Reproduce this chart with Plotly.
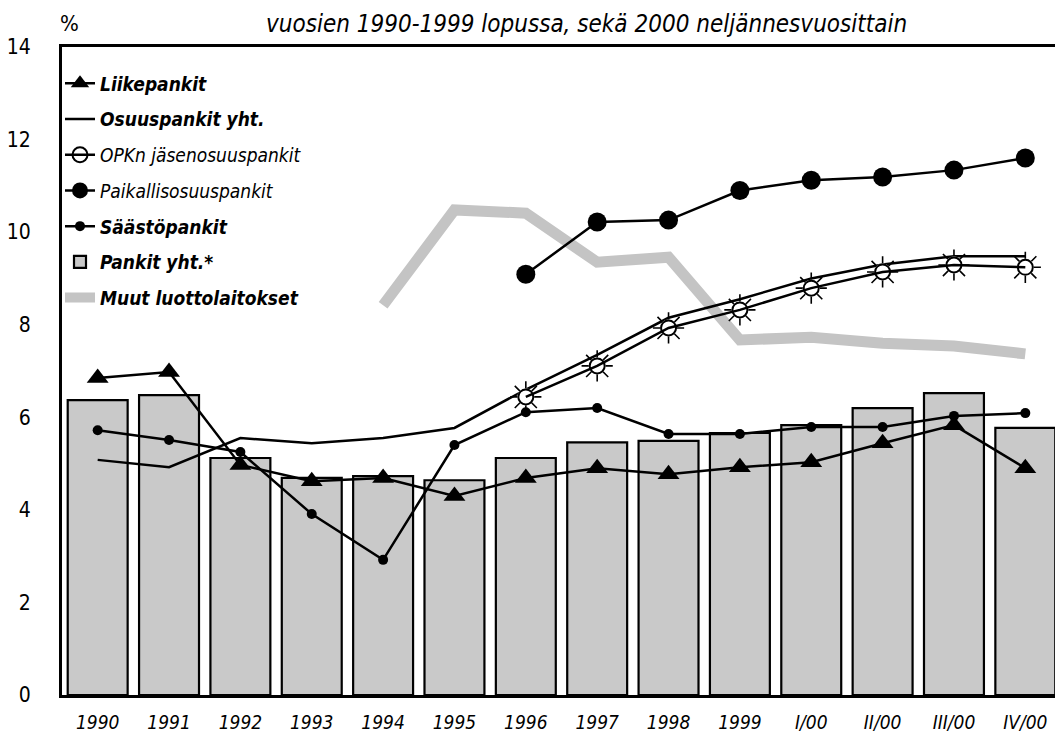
import plotly.graph_objects as go

categories = ["1990", "1991", "1992", "1993", "1994", "1995", "1996", "1997",
              "1998", "1999", "I/00", "II/00", "III/00", "IV/00"]

pankit_yht = [6.37, 6.48, 5.12, 4.69, 4.73, 4.64, 5.12, 5.46, 5.49, 5.66, 5.83, 6.20, 6.52, 5.77]
liikepankit = [6.85, 6.98, 4.97, 4.62, 4.69, 4.30, 4.69, 4.90, 4.77, 4.92, 5.03, 5.44, 5.83, 4.90]
osuuspankit = [5.08, 4.92, 5.55, 5.44, 5.55, 5.77, 6.60, 7.35, 8.15, 8.55, 9.00, 9.30, 9.48, 9.48]
opkn = [None, None, None, None, None, None, 6.44, 7.11, 7.93, 8.32, 8.79, 9.14, 9.29, 9.24]
paikallis = [None, None, None, None, None, None, 9.09, 10.22, 10.26, 10.90, 11.12, 11.19, 11.34, 11.60]
saastopankit = [5.72, 5.51, 5.25, 3.91, 2.92, 5.40, 6.11, 6.20, 5.64, 5.64, 5.79, 5.79, 6.03, 6.09]
muut = [None, None, None, None, 8.42, 10.48, 10.41, 9.35, 9.46, 7.67, 7.73, 7.60, 7.54, 7.37]

title_text = "vuosien 1990-1999 lopussa, sekä 2000 neljännesvuosittain"
yticks = [0, 2, 4, 6, 8, 10, 12, 14]

FONT = "DejaVu Sans Condensed, Liberation Sans Narrow, Arial Narrow, Liberation Sans, Arial, sans-serif"

fig = go.Figure()

fig.add_trace(go.Bar(
    x=categories, y=pankit_yht, name="<b><i>Pankit yht.*</i></b>",
    marker=dict(color="#c9c9c9", line=dict(color="black", width=2.2)),
    width=0.84, legendrank=6, legendgroup="g6",
))

fig.add_trace(go.Scatter(
    x=categories, y=muut, name="<b><i>Muut luottolaitokset</i></b>",
    mode="lines", line=dict(color="#c4c4c4", width=11),
    legendrank=7, legendgroup="g7",
))

fig.add_trace(go.Scatter(
    x=categories, y=osuuspankit, name="<b><i>Osuuspankit yht.</i></b>",
    mode="lines", line=dict(color="black", width=2.5),
    legendrank=2, legendgroup="g2",
))

# OPKn rays + white inner circle (decoration)
fig.add_trace(go.Scatter(
    x=categories, y=opkn, mode="markers", showlegend=False, hoverinfo="skip",
    marker=dict(symbol="asterisk-open", size=26, color="black",
                line=dict(color="black", width=1.6)),
    legendgroup="g3",
))
fig.add_trace(go.Scatter(
    x=categories, y=opkn, mode="markers", showlegend=False, hoverinfo="skip",
    marker=dict(symbol="circle", size=17, color="white", line=dict(width=0)),
    legendgroup="g3",
))
fig.add_trace(go.Scatter(
    x=categories, y=opkn, name="<i>OPKn jäsenosuuspankit</i>",
    mode="lines+markers", line=dict(color="black", width=2.5),
    marker=dict(symbol="circle-open", size=15, color="black", line=dict(width=2)),
    legendrank=3, legendgroup="g3",
))

fig.add_trace(go.Scatter(
    x=categories, y=paikallis, name="<i>Paikallisosuuspankit</i>",
    mode="lines+markers", line=dict(color="black", width=2.5),
    marker=dict(symbol="circle", size=19, color="black"),
    legendrank=4, legendgroup="g4",
))

fig.add_trace(go.Scatter(
    x=categories, y=saastopankit, name="<b><i>Säästöpankit</i></b>",
    mode="lines+markers", line=dict(color="black", width=2.5),
    marker=dict(symbol="circle", size=10, color="black"),
    legendrank=5, legendgroup="g5",
))

fig.add_trace(go.Scatter(
    x=categories, y=liikepankit, name="<b><i>Liikepankit</i></b>",
    mode="lines+markers", line=dict(color="black", width=2.5),
    marker=dict(symbol="triangle-up", size=19, color="black"),
    legendrank=1, legendgroup="g1",
))

# The page body has an 8px default margin, so the figure is sized to fit inside it.
fig.update_layout(
    width=1055, height=728,
    margin=dict(l=54, r=2, t=39, b=41),
    paper_bgcolor="white", plot_bgcolor="white",
    font=dict(family=FONT, color="black"),
    showlegend=True,
    legend=dict(
        x=-0.002, y=0.973, xanchor="left", yanchor="top",
        font=dict(size=19, family=FONT), bgcolor="rgba(0,0,0,0)",
        traceorder="grouped", tracegroupgap=8, itemwidth=30,
    ),
)

fig.add_annotation(text=title_text, x=0.525, y=1.0, xref="paper", yref="paper",
                   xanchor="center", yanchor="middle", yshift=23, showarrow=False,
                   font=dict(size=24, family=FONT, style="italic"))
fig.add_annotation(text="%", x=0.008, y=1.0, xref="paper", yref="paper",
                   xanchor="center", yanchor="middle", yshift=24, showarrow=False,
                   font=dict(size=22, family=FONT))

fig.update_xaxes(
    type="category", categoryorder="array", categoryarray=categories,
    showline=True, linecolor="black", linewidth=3, mirror=True,
    showgrid=False, ticks="", ticklabelstandoff=8, automargin=False,
    tickfont=dict(size=19, family=FONT, style="italic"),
    range=[-0.5, 13.5],
)
fig.update_yaxes(
    range=[0, 14], tickvals=yticks,
    showline=True, linecolor="black", linewidth=3, mirror=True,
    showgrid=False, zeroline=False, ticks="", ticklabelstandoff=24, automargin=False,
    tickfont=dict(size=21, family=FONT),
)

fig.write_html("out.html")
